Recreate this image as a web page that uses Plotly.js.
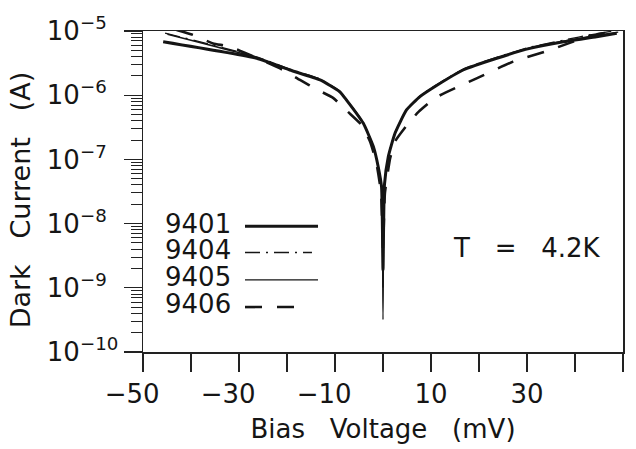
<!DOCTYPE html>
<html>
<head>
<meta charset="utf-8">
<script src="https://cdn.plot.ly/plotly-3.0.1.min.js"></script>
<style>
  html, body { margin: 0; padding: 0; background: #fff; }
  #chart { width: 636px; height: 449px; }
</style>
</head>
<body>
<div id="chart"></div>
<script>
// ---- data (bias in mV, dark current in A) ----
const seriesNames = ['9401', '9404', '9405', '9406'];

const v9401 = [-45.8, -26.3, -19.4, -13.1, -9.0, -7.6, -4.1, -2.0, -1.0, -0.3, 0, 0.3, 1.1, 2.5, 4.9, 7.7, 11.0, 16.7, 23.7, 30.6, 37.6, 44.5, 48.7];
const i9401 = [6.8e-6, 3.76e-6, 2.47e-6, 1.73e-6, 1.13e-6, 8.4e-7, 3.65e-7, 1.58e-7, 7.7e-8, 3.7e-8, 1.9e-9, 4.0e-8, 1.1e-7, 2.55e-7, 5.9e-7, 9.5e-7, 1.39e-6, 2.47e-6, 3.76e-6, 5.37e-6, 6.8e-6, 8.15e-6, 9.2e-6];

const v9404 = [-45.4, -26.3, -19.4, -13.1, -9.0, -7.6, -4.1, -2.0, -1.0, -0.3, 0, 0.3, 1.1, 2.5, 4.9, 7.7, 11.0, 16.7, 23.7, 30.6, 37.6, 44.0, 48.0];
const i9404 = [9.3e-6, 3.95e-6, 2.55e-6, 1.78e-6, 1.16e-6, 8.6e-7, 3.75e-7, 1.6e-7, 7.9e-8, 3.8e-8, 1.0e-9, 4.1e-8, 1.12e-7, 2.6e-7, 6.0e-7, 9.7e-7, 1.43e-6, 2.55e-6, 3.9e-6, 5.6e-6, 7.2e-6, 9.0e-6, 1.0e-5];

const v9405 = [-44.9, -26.3, -19.4, -13.1, -9.0, -7.6, -4.1, -2.0, -1.0, -0.3, 0, 0.3, 1.1, 2.5, 4.9, 7.7, 11.0, 16.7, 23.7, 30.6, 37.6, 44.5, 49.0];
const i9405 = [8.9e-6, 3.85e-6, 2.5e-6, 1.75e-6, 1.14e-6, 8.5e-7, 3.7e-7, 1.57e-7, 7.6e-8, 3.6e-8, 3.2e-10, 3.9e-8, 1.1e-7, 2.58e-7, 5.95e-7, 9.6e-7, 1.41e-6, 2.5e-6, 3.82e-6, 5.45e-6, 6.95e-6, 8.6e-6, 9.6e-6];

const v9406 = [-43.0, -39.6, -35.4, -31.9, -20.8, -17.3, -13.5, -10.4, -7.3, -4.4, -2.7, -1.4, -0.4, 0, 0.4, 1.5, 2.5, 5.3, 7.4, 11.0, 19.5, 27.1, 34.8, 43.1, 47.5];
const i9406 = [1.04e-5, 8.7e-6, 6.4e-6, 5.7e-6, 2.47e-6, 1.73e-6, 1.2e-6, 9.1e-7, 5.5e-7, 3.4e-7, 1.9e-7, 9.0e-8, 3.0e-8, 4.0e-9, 3.0e-8, 1.05e-7, 1.9e-7, 3.65e-7, 5.5e-7, 9.2e-7, 1.83e-6, 3.33e-6, 5.06e-6, 8.4e-6, 9.65e-6];

// tick labels
const xTickVals = [-50, -30, -10, 10, 30, 50];
const xTickText = ['\u221250\u2007\u2009', '\u221230\u2007\u2009', '\u221210\u2007\u2009', '10', '30', '50'];
const xUnlabelledTicks = [-40, -20, 0, 20, 40];
const yTickVals = [1e-10, 1e-9, 1e-8, 1e-7, 1e-6, 1e-5];
const yTickText = ['10<sup>\u221210</sup>', '10<sup>\u22129\u2007</sup>', '10<sup>\u22128\u2007</sup>', '10<sup>\u22127\u2007</sup>', '10<sup>\u22126\u2007</sup>', '10<sup>\u22125\u2007</sup>'];

const xTitle = 'Bias\u00a0\u00a0\u00a0Voltage\u00a0\u00a0\u00a0(mV)';
const yTitle = 'Dark\u00a0\u00a0\u00a0Current\u00a0\u00a0\u00a0(A)\u00a0\u00a0\u200b';
const tempLabel = 'T\u00a0\u00a0\u00a0=\u00a0\u00a0\u00a04.2K';

// ---- styles ----
const ink = '#151515';
const styles = {
  '9401': {width: 3.0, dash: 'solid'},
  '9404': {width: 1.3, dash: '15px,6px,2px,6px'},
  '9405': {width: 1.3, dash: 'solid'},
  '9406': {width: 2.6, dash: '17px,15px'}
};
const xs = {'9401': v9401, '9404': v9404, '9405': v9405, '9406': v9406};
const ys = {'9401': i9401, '9404': i9404, '9405': i9405, '9406': i9406};

const traces = seriesNames.map(n => ({
  type: 'scatter', mode: 'lines', name: n,
  x: xs[n], y: ys[n],
  line: {color: ink, width: styles[n].width, dash: styles[n].dash, shape: 'spline', smoothing: 0.45},
  hoverinfo: 'x+y+name'
}));

// minor tick positions (2..9 within each decade)
const minorVals = [];
for (let e = -10; e < -5; e++) {
  for (let d = 2; d <= 9; d++) minorVals.push(d * Math.pow(10, e));
}

// hand-made legend: text first, then line sample
const legendRowsY = [0.400, 0.318, 0.233, 0.148];
const legendLineEnd = {'9401': 0.3646, '9404': 0.352, '9405': 0.3646, '9406': 0.331};
const annotations = [];
const shapes = [];
seriesNames.forEach((n, k) => {
  annotations.push({
    xref: 'paper', yref: 'paper', x: 0.043, y: legendRowsY[k],
    xanchor: 'left', yanchor: 'middle', showarrow: false, height: 24, borderpad: 0,
    text: n, font: {family: 'DejaVu Sans', size: 26, color: ink}
  });
  shapes.push({
    type: 'line', xref: 'paper', yref: 'paper',
    x0: 0.2125, x1: legendLineEnd[n], y0: legendRowsY[k] - 0.008, y1: legendRowsY[k] - 0.008,
    line: {color: ink, width: styles[n].width, dash: styles[n].dash}
  });
});
annotations.push({
  xref: 'paper', yref: 'paper', x: 0.799, y: 0.323,
  xanchor: 'center', yanchor: 'middle', showarrow: false,
  text: tempLabel, font: {family: 'DejaVu Sans', size: 26, color: ink}
});

const axisCommon = {
  showline: true, linecolor: '#222', linewidth: 1.5, mirror: true,
  showgrid: false, zeroline: false,
  ticks: 'outside', ticklen: 18, tickwidth: 1.3, tickcolor: '#222',
  tickfont: {family: 'DejaVu Sans', size: 26, color: ink}
};

const layout = {
  width: 636, height: 449,
  margin: {l: 143, r: 13, t: 31, b: 97},
  paper_bgcolor: '#ffffff', plot_bgcolor: '#ffffff',
  font: {family: 'DejaVu Sans', size: 26, color: ink},
  showlegend: false,
  xaxis: Object.assign({}, axisCommon, {
    range: [-50, 50], tickmode: 'array', tickvals: xTickVals, ticktext: xTickText,
    minor: {tickmode: 'array', tickvals: xUnlabelledTicks, ticks: 'outside', ticklen: 18, tickwidth: 1.3, tickcolor: '#222', showgrid: false},
    title: {text: xTitle, standoff: 12, font: {family: 'DejaVu Sans', size: 26, color: ink}}
  }),
  yaxis: Object.assign({}, axisCommon, {
    type: 'log', range: [-10, -5], tickmode: 'array', tickvals: yTickVals, ticktext: yTickText,
    minor: {tickmode: 'array', tickvals: minorVals, ticks: 'outside', ticklen: 11, tickwidth: 1, tickcolor: '#222', showgrid: false},
    title: {text: yTitle, standoff: 8, font: {family: 'DejaVu Sans', size: 27, color: ink}}
  }),
  annotations: annotations,
  shapes: shapes
};

Plotly.newPlot('chart', traces, layout, {displayModeBar: false, staticPlot: true});
</script>
</body>
</html>
